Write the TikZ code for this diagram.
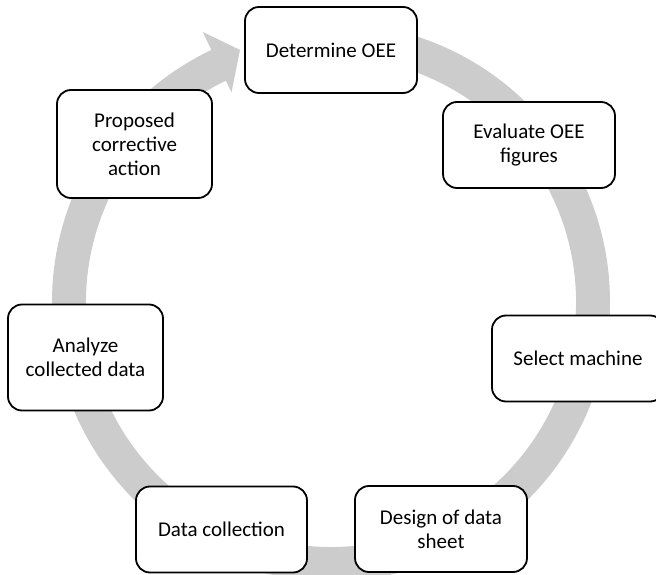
\documentclass[tikz,border=0pt]{standalone}
\usepackage{fontspec}
\setmainfont{Carlito}
\usetikzlibrary{calc}
\definecolor{ringgray}{RGB}{204,204,204}
\begin{document}
\begin{tikzpicture}[x=1pt,y=1pt,
  stepbox/.style={draw=black, line width=1.8pt, fill=white, rounded corners=14pt,
    align=center, inner sep=2pt, font=\fontsize{21}{24}\selectfont},
  wide/.style={minimum width=172pt, minimum height=86pt},
  narrow/.style={minimum width=155pt, minimum height=106pt}]
\useasboundingbox (0,0) rectangle (656,574);
\coordinate (c) at (331,272);
\fill[ringgray] ($(c)+(90:279)$) arc[start angle=90,end angle=-244.6,radius=279]
  -- ($(c)+(115.4:299)$) -- ($(c)+(109.85:268)$) -- ($(c)+(115.4:232)$)
  -- ($(c)+(115.4:245)$) arc[start angle=-244.6,end angle=90,radius=245] -- cycle;
\node[stepbox,wide] (det) at (331,524) {Determine OEE};
\node[stepbox,wide] (eval) at (529,429) {Evaluate OEE\\figures};
\node[stepbox,wide] (sel) at (578,215.5) {Select machine};
\node[stepbox,wide] (des) at (441,45) {Design of data\\sheet};
\node[stepbox,wide,minimum width=171pt] (dat) at (221.5,44.5) {Data collection};
\node[stepbox,narrow] (ana) at (85.5,216.5) {Analyze\\collected data};
\node[stepbox,narrow,minimum height=108pt] (pro) at (134.5,430) {Proposed\\corrective\\action};
\end{tikzpicture}
\end{document}
